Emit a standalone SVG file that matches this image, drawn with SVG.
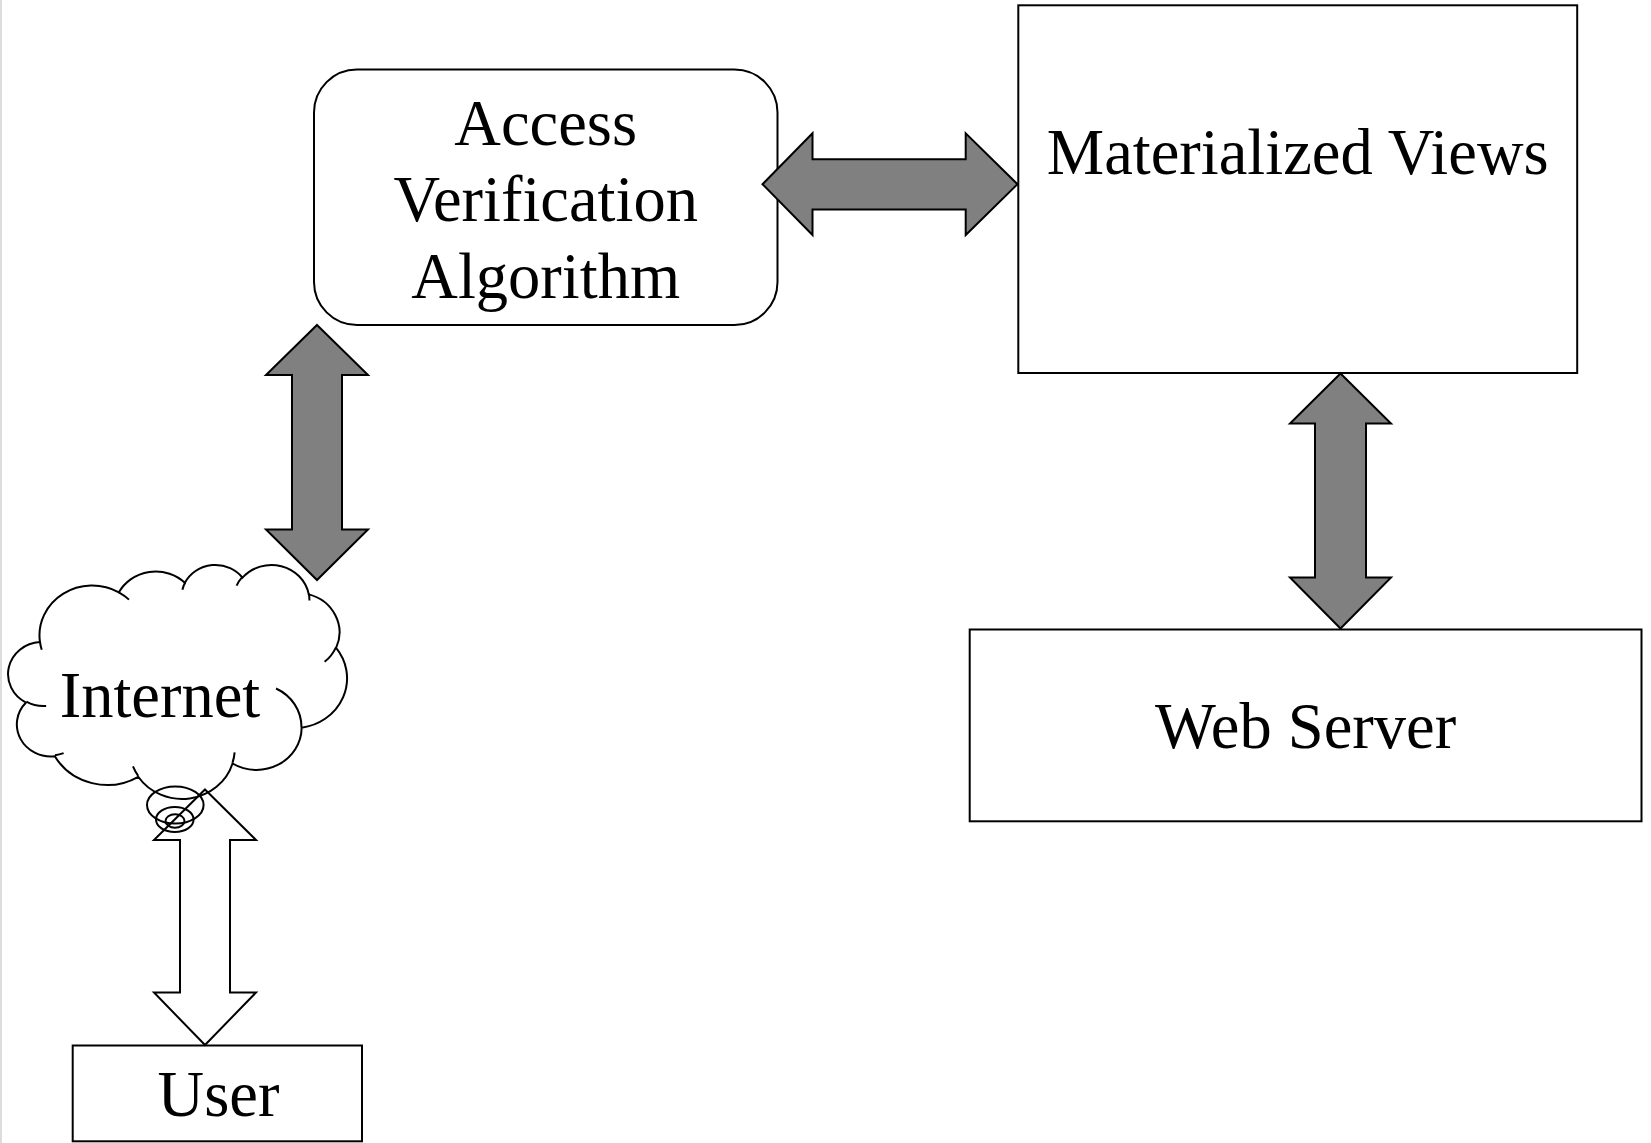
<svg xmlns="http://www.w3.org/2000/svg" width="1651" height="1143" viewBox="0 0 1651 1143">
  <style>
    .box { fill: #ffffff; stroke: #000000; stroke-width: 2; }
    .label { font-family: "Liberation Serif", "Times New Roman", serif; font-size: 64.5px; fill: #000000; text-anchor: middle; }
    .cloud { fill: #ffffff; stroke: #000000; stroke-width: 2; }
    .crease { fill: none; stroke: #000000; stroke-width: 2; }
    .bubble { fill: none; stroke: #000000; stroke-width: 2; }
    .thick { fill: #808080; stroke: #000000; stroke-width: 2; stroke-linejoin: miter; }
    .hollow { fill: none; stroke: #000000; stroke-width: 2; stroke-linejoin: miter; }
  </style>

  <rect x="0" y="0" width="1651" height="1143" fill="#ffffff"/>
  <line x1="1" y1="0" x2="1" y2="1143" stroke="#dcdcdc" stroke-width="2"/>

  <!-- Access Verification Algorithm -->
  <g id="access-verification">
    <rect class="box" x="314" y="69.5" width="463.5" height="255.5" rx="43" ry="43"/>
    <text class="label" x="545.7" y="144.5">Access</text>
    <text class="label" x="545.7" y="221">Verification</text>
    <text class="label" x="545.7" y="297.5">Algorithm</text>
  </g>

  <!-- Materialized Views -->
  <g id="materialized-views">
    <rect class="box" x="1018.3" y="5.3" width="558.9" height="367.7"/>
    <text class="label" x="1297.7" y="174">Materialized Views</text>
  </g>

  <!-- Web Server -->
  <g id="web-server">
    <rect class="box" x="969.7" y="629.5" width="671.8" height="191.8"/>
    <text class="label" x="1305.6" y="748">Web Server</text>
  </g>

  <!-- Internet cloud with its thought-bubble tail -->
  <g id="internet">
    <g transform="translate(9.5,564.2) scale(0.00781,0.005414)">
      <path class="cloud" vector-effect="non-scaling-stroke" d="M3900,14370 A6753,9190 0 0 1 14005,5202 A5333,7267 0 0 1 22457,3432 A4365,5945 0 0 1 29835,2482 A4857,6595 0 0 1 38320,5578 A5333,7273 0 0 1 41820,15462 A6775,9220 0 0 1 37406,30204 A5785,7867 0 0 1 28558,36814 A6752,9215 0 0 1 16483,39266 A7720,10543 0 0 1 5807,35470 A4360,5918 0 0 1 2115,25550 A4345,5945 0 0 1 3900,14370 Z"/>
      <path class="crease" vector-effect="non-scaling-stroke" d="M4693,26177 A4345,5945 0 0 1 2159,25379 M6928,34899 A4360,5918 0 0 1 5819,35281 M16478,39090 A6752,9215 0 0 1 15810,37349 M28827,34751 A6752,9215 0 0 1 28560,36660 M34129,22954 A5785,7867 0 0 1 37381,30090 M41798,15354 A5333,7273 0 0 1 40349,18031 M38324,5426 A4857,6595 0 0 1 38400,6690 M29078,3952 A4857,6595 0 0 1 29820,2339 M22141,4720 A4365,5945 0 0 1 22500,3330 M14000,5192 A6753,9190 0 0 1 15301,6542 M4127,15789 A6753,9190 0 0 1 3900,14370"/>
    </g>
    <text class="label" x="160" y="716.7">Internet</text>
    <ellipse class="bubble" cx="175.3" cy="805" rx="28.3" ry="18.5"/>
    <ellipse class="bubble" cx="174.8" cy="819.5" rx="18.8" ry="12.5"/>
    <ellipse class="bubble" cx="175" cy="821" rx="9.5" ry="6.8"/>
  </g>

  <!-- User -->
  <g id="user">
    <rect class="box" x="72.7" y="1045.5" width="289.3" height="95.8"/>
    <text class="label" x="218.5" y="1116">User</text>
  </g>

  <!-- Connectors: double-headed block arrows -->
  <g id="connectors">
    <polygon class="thick" points="762.5,184.2 812.5,133.3 812.5,159.2 965.7,159.2 965.7,133.3 1017.5,184.2 965.7,235 965.7,209.5 812.5,209.5 812.5,235"/>
    <polygon class="thick" points="317,325 368,375 342,375 342,529.5 368,529.5 317,580 266,529.5 292,529.5 292,375 266,375"/>
    <polygon class="thick" points="1340.5,373.5 1391,423.5 1366,423.5 1366,577.5 1391,577.5 1340.5,628.5 1290,577.5 1315,577.5 1315,423.5 1290,423.5"/>
    <polygon class="hollow" points="205,789.5 256,840 230,840 230,992.5 256,992.5 205,1045 154,992.5 180,992.5 180,840 154,840"/>
  </g>
</svg>
